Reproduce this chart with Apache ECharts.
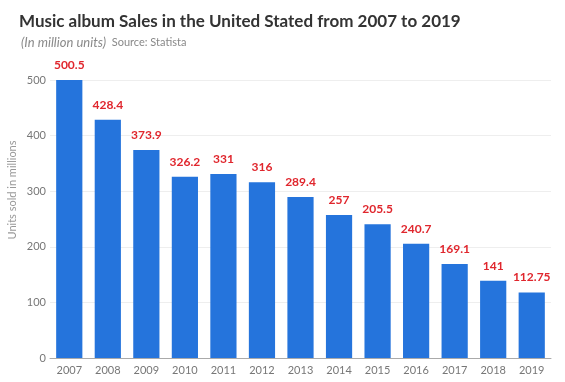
<!DOCTYPE html>
<html><head><meta charset="utf-8">
<script src="https://cdn.jsdelivr.net/npm/echarts@6/dist/echarts.min.js"></script>
<style>html,body{margin:0;padding:0;background:#fff;}#c{width:565px;height:382px;}</style>
</head><body><div id="c"></div>
<script>
const years = ['2007','2008','2009','2010','2011','2012','2013','2014','2015','2016','2017','2018','2019'];
const barValues = [500.5, 428.4, 373.9, 326.2, 331, 316, 289.4, 257, 240.7, 205.5, 169.1, 139, 118];
const labelTexts = ['500.5','428.4','373.9','326.2','331','316','289.4','257','205.5','240.7','169.1','141','112.75'];
const yTicks = [0, 100, 200, 300, 400, 500];

const chart = echarts.init(document.getElementById('c'), null, {renderer:'canvas'});
chart.setOption({
  animation: false,
  backgroundColor: '#fff',
  textStyle: {fontFamily: 'Lato'},
  title: [{
    text: 'Music album Sales in the United Stated from 2007 to 2019',
    left: 14, top: 8,
    textStyle: {fontFamily: 'Lato', fontWeight: 'bold', fontSize: 17, color: '#333'}
  }, {
    text: '{a|(In million units)}{b|  Source: Statista}',
    left: 16, top: 31,
    textStyle: {
      fontWeight: 'normal',
      rich: {
        a: {fontFamily: 'Lato', fontStyle: 'italic', fontWeight: 'normal', fontSize: 13, color: '#8a8a8a'},
        b: {fontFamily: 'Lato', fontWeight: 'normal', fontSize: 11, color: '#888'}
      }
    }
  }],
  graphic: [{
    type: 'text', x: 12, y: 190, rotation: Math.PI / 2,
    style: {text: 'Units sold in millions', fontFamily: 'Lato', fontSize: 11, fill: '#999', align: 'center', verticalAlign: 'middle'}
  }],
  grid: {left: 50, right: 14, top: 80, bottom: 24, containLabel: false},
  xAxis: {
    type: 'category', data: years,
    axisLine: {show: true, lineStyle: {color: '#aaa', width: 1}},
    axisTick: {show: false},
    axisLabel: {color: '#777', fontSize: 11, margin: 7, interval: 0, fontFamily: 'Lato'}
  },
  yAxis: {
    type: 'value', min: 0, max: 500, interval: 100,
    axisLine: {show: false}, axisTick: {show: false},
    axisLabel: {color: '#777', fontSize: 11, margin: 4, fontFamily: 'Lato',
      formatter: v => yTicks.includes(v) ? String(v) : ''},
    splitLine: {lineStyle: {color: '#eeeeee', width: 1}}
  },
  series: [{
    type: 'bar', data: barValues, barWidth: '68%',
    itemStyle: {color: '#2574dc'},
    label: {
      show: true, position: 'top', distance: 9,
      color: '#e0262d', fontWeight: 'bold', fontSize: 12, fontFamily: 'Lato',
      formatter: p => labelTexts[p.dataIndex]
    }
  }]
});
</script></body></html>
